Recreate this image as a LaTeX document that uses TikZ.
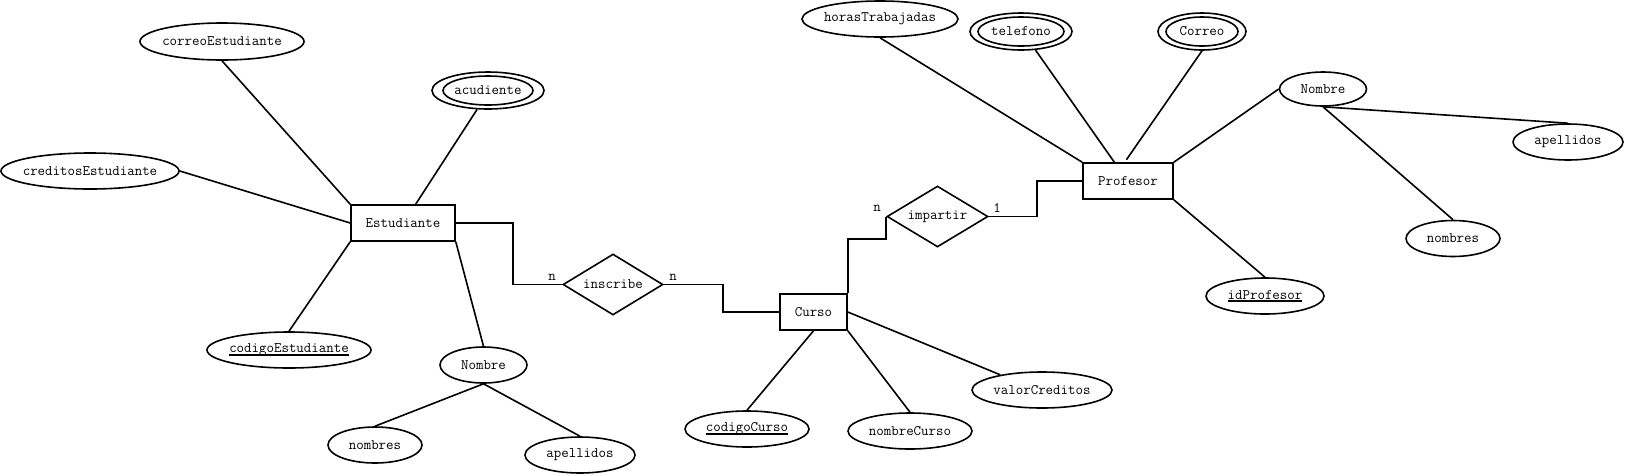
\documentclass[tikz,border=0pt]{standalone}
\usetikzlibrary{shapes.geometric}
\newcommand\zt[1]{\makebox[0pt]{#1}}
\newcommand\ulk[1]{\setbox0\hbox{#1}\rlap{\rule[-2.8pt]{\wd0}{1.4pt}}\box0}
\begin{document}
\begin{tikzpicture}[x=1pt,y=-1pt, line width=1.6pt,
  every node/.style={font=\ttfamily\fontsize{14.5}{16}\selectfont},
  attr/.style={draw, ellipse, inner sep=0pt, minimum height=36pt},
  inell/.style={draw, ellipse, inner sep=0pt, minimum height=29pt},
  ent/.style={draw, rectangle, inner sep=0pt, minimum height=36pt},
  rel/.style={draw, diamond, inner sep=0pt, minimum width=100pt, minimum height=61pt},
  card/.style={inner sep=0pt}]
\useasboundingbox (0,0) rectangle (1626,475);

% Estudiante
\node[ent, minimum width=104pt] (estud) at (403,223) {\zt{Estudiante}};
\node[attr, minimum width=164pt, minimum height=37pt] (correoE) at (222,41.5) {\zt{correoEstudiante}};
\node[attr, minimum width=178pt] (credE) at (90,171) {\zt{creditosEstudiante}};
\node[attr, minimum width=112pt, minimum height=37pt] (acud) at (488,90.5) {\zt{acudiente}};
\node[inell, minimum width=90pt] (acudIn) at (acud.center) {};
\node[attr, minimum width=164pt] (codE) at (289,350) {\zt{\ulk{codigoEstudiante}}};
\node[attr, minimum width=87pt] (nomE) at (483.5,365) {\zt{Nombre}};
\node[attr, minimum width=94pt] (nsE) at (375,445) {\zt{nombres}};
\node[attr, minimum width=110pt] (apE) at (580,455) {\zt{apellidos}};

% inscribe
\node[rel] (insc) at (613,284.5) {\zt{inscribe}};
\node[card] (cn1) at (552,277) {n};
\node[card] (cn2) at (673,277) {n};

% Curso
\node[ent, minimum width=67pt] (curso) at (813.5,312) {\zt{Curso}};
\node[attr, minimum width=124pt] (codC) at (747,429) {\zt{\ulk{codigoCurso}}};
\node[attr, minimum width=124pt] (nomC) at (910,431) {\zt{nombreCurso}};
\node[attr, minimum width=140pt] (valC) at (1042,390) {\zt{valorCreditos}};

% impartir
\node[rel, minimum width=101pt] (imp) at (937.5,216.5) {\zt{impartir}};
\node[card] (cn3) at (877,208) {n};
\node[card] (cn4) at (997,208) {1};

% Profesor
\node[ent, minimum width=90pt] (prof) at (1128,181) {\zt{Profesor}};
\node[attr, minimum width=156pt] (horas) at (880,19) {\zt{horasTrabajadas}};
\node[attr, minimum width=102pt, minimum height=37pt] (tel) at (1021,31.5) {\zt{telefono}};
\node[inell, minimum width=86pt] (telIn) at (tel.center) {};
\node[attr, minimum width=88pt, minimum height=37pt] (corr) at (1202,31.5) {\zt{Correo}};
\node[inell, minimum width=72pt] (corrIn) at (corr.center) {};
\node[attr, minimum width=87pt, minimum height=34pt] (nomP) at (1323,89) {\zt{Nombre}};
\node[attr, minimum width=110pt] (apP) at (1568,142) {\zt{apellidos}};
\node[attr, minimum width=94pt] (nsP) at (1453,238.5) {\zt{nombres}};
\node[attr, minimum width=118pt] (idP) at (1265,296) {\zt{\ulk{idProfesor}}};

% connectors: Estudiante
\draw (correoE.south) -- (estud.north west);
\draw (credE.east) -- (estud.west);
\draw (acud.240) -- (estud.56);
\draw (estud.south west) -- (codE.north);
\draw (estud.south east) -- (nomE.north);
\draw (nomE.south) -- (nsE.north);
\draw (nomE.south) -- (apE.north);

% relationships
\draw (estud.east) -- ++(57,0) |- (insc.west);
\draw (insc.east) -- ++(59,0) |- (curso.west);
\draw (curso.north east) -- ++(0,-54) -| (imp.west);
\draw (imp.east) -- ++(48,0) |- (prof.west);

% Curso
\draw (curso.south) -- (codC.north);
\draw (curso.south east) -- (nomC.north);
\draw (curso.east) -- (valC.160);

% Profesor
\draw (horas.south) -- (prof.north west);
\draw (tel.308) -- (prof.126);
\draw[shorten >=3pt] (corr.south) -- (prof.100);
\draw (prof.north east) -- (nomP.west);
\draw (nomP.south) -- (apP.north);
\draw (nomP.south) -- (nsP.north);
\draw (prof.south east) -- (idP.north);
\end{tikzpicture}
\end{document}
